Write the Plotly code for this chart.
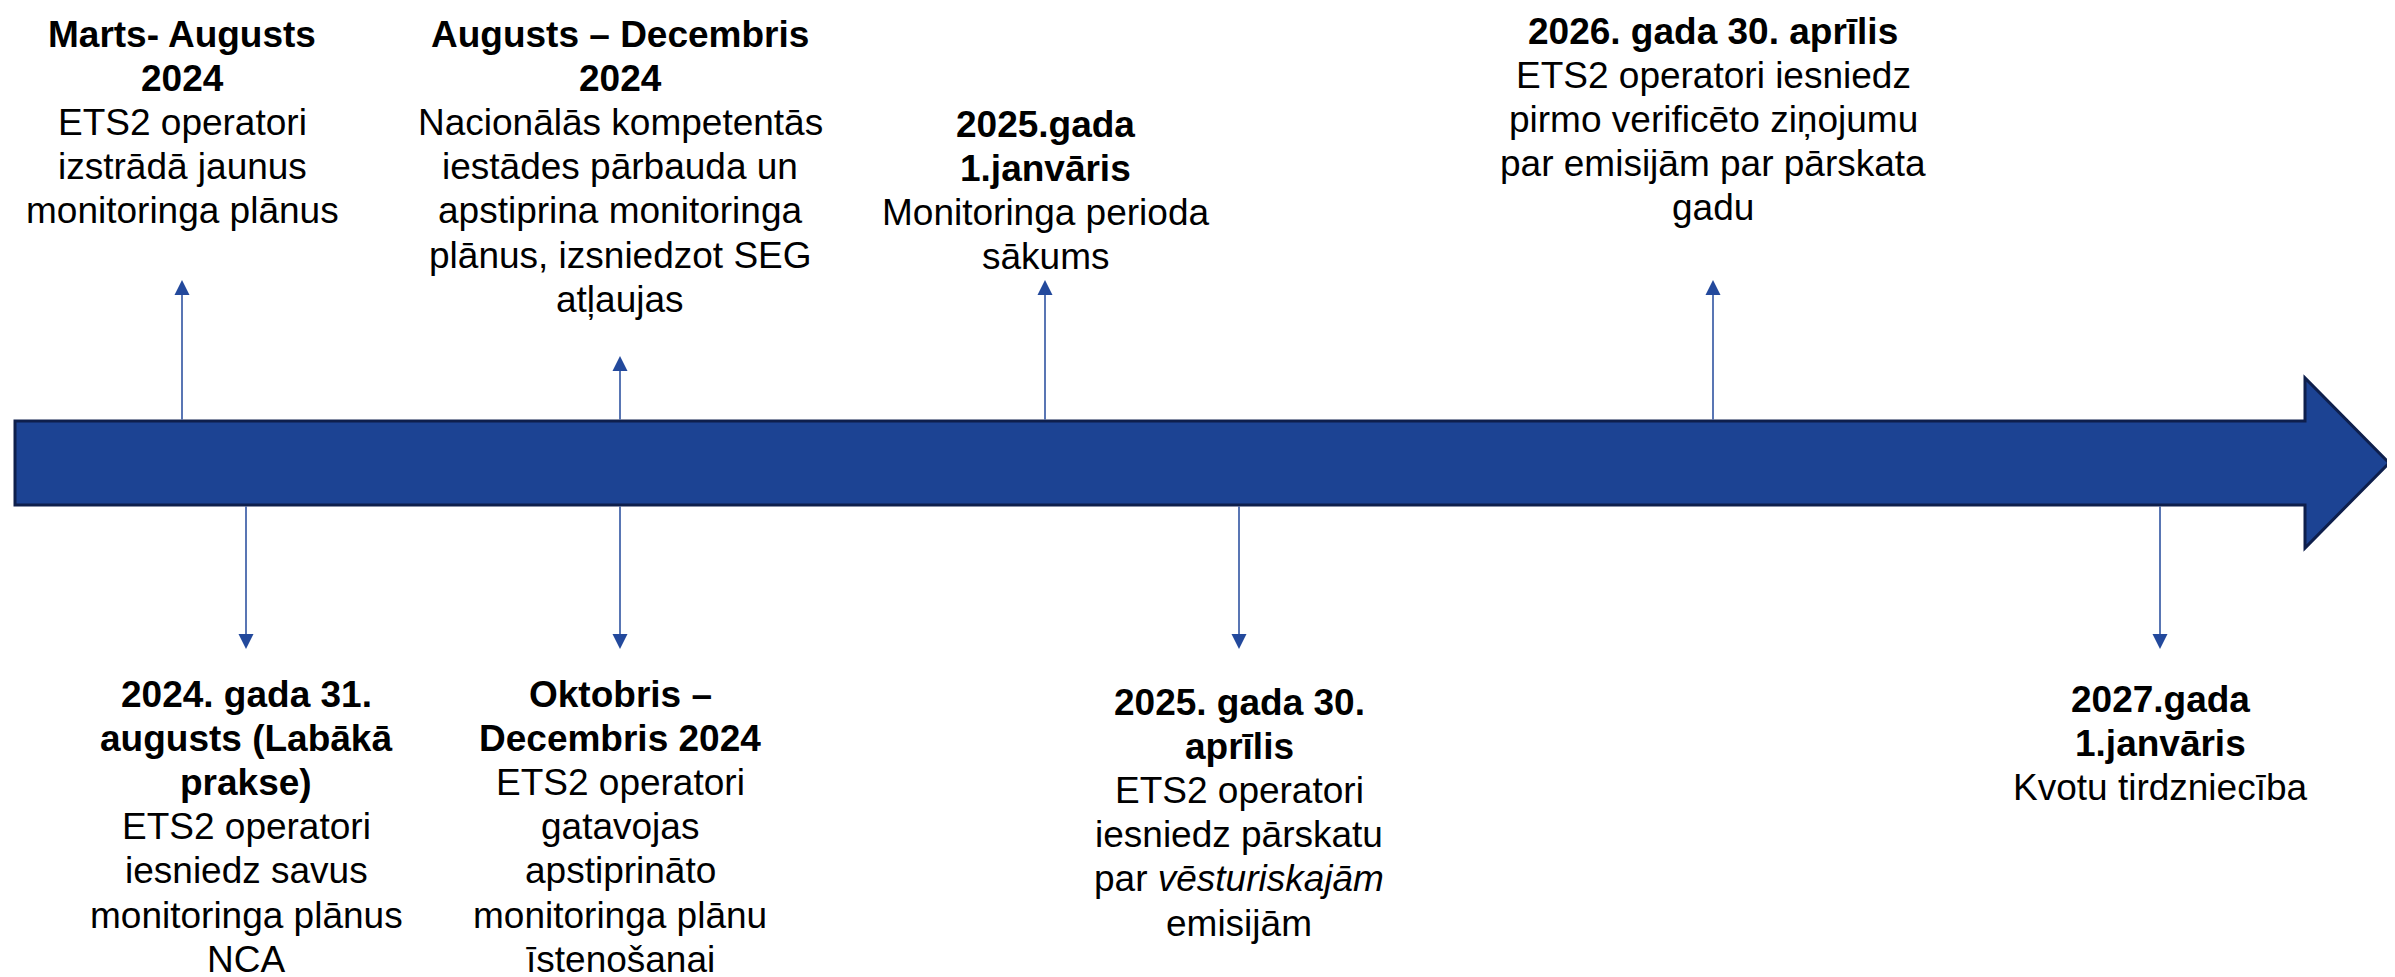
import plotly.graph_objects as go

# ---------------- data ----------------
event_pos = [174, 612, 1037, 1705, 238, 612, 1231, 2152]
event_side = ["up", "up", "up", "up", "down", "down", "down", "down"]

headings = [
    ["Marts- Augusts", "2024"],
    ["Augusts – Decembris", "2024"],
    ["2025.gada", "1.janvāris"],
    ["2026. gada 30. aprīlis"],
    ["2024. gada 31.", "augusts (Labākā", "prakse)"],
    ["Oktobris –", "Decembris 2024"],
    ["2025. gada 30.", "aprīlis"],
    ["2027.gada", "1.janvāris"],
]

details = [
    ["ETS2 operatori", "izstrādā jaunus", "monitoringa plānus"],
    ["Nacionālās kompetentās", "iestādes pārbauda un", "apstiprina monitoringa",
     "plānus, izsniedzot SEG", "atļaujas"],
    ["Monitoringa perioda", "sākums"],
    ["ETS2 operatori iesniedz", "pirmo verificēto ziņojumu",
     "par emisijām par pārskata", "gadu"],
    ["ETS2 operatori", "iesniedz savus", "monitoringa plānus", "NCA"],
    ["ETS2 operatori", "gatavojas", "apstiprināto", "monitoringa plānu",
     "īstenošanai"],
    ["ETS2 operatori", "iesniedz pārskatu", "par <i>vēsturiskajām</i>", "emisijām"],
    ["Kvotu tirdzniecība"],
]

# ---------------- layout constants ----------------
W, H = 2395, 977
BAR_TOP, BAR_BOT = 413, 497
BAR_LEFT, HEAD_BASE, HEAD_TIP = 7, 2297, 2381
HEAD_TOP, HEAD_BOT = 370, 540
connector_tip = [272, 348, 272, 272, 641, 641, 641, 641]
label_first_y = [26, 26, 116, 23, 686, 686, 694, 691]
LINE_PITCH = 44.2
FONT = "Liberation Sans, Arial, sans-serif"
FONT_SIZE = 37
BAR_FILL = "#1C4393"
BAR_EDGE = "#0E1F4C"
CONN = "#23499C"

fig = go.Figure()
fig.add_trace(go.Scatter(x=[0, W], y=[0, H], mode="markers",
                         marker=dict(opacity=0), hoverinfo="skip",
                         showlegend=False))

mid = (BAR_TOP + BAR_BOT) / 2
arrow_path = (f"M {BAR_LEFT},{BAR_TOP} L {HEAD_BASE},{BAR_TOP} L {HEAD_BASE},{HEAD_TOP} "
              f"L {HEAD_TIP},{mid} L {HEAD_BASE},{HEAD_BOT} L {HEAD_BASE},{BAR_BOT} "
              f"L {BAR_LEFT},{BAR_BOT} Z")
fig.add_shape(type="path", path=arrow_path, xref="x", yref="y",
              fillcolor=BAR_FILL, line=dict(color=BAR_EDGE, width=3), layer="above")

annotations = []
for i, x in enumerate(event_pos):
    base = BAR_TOP if event_side[i] == "up" else BAR_BOT
    annotations.append(dict(
        x=x, y=connector_tip[i], ax=x, ay=base, xref="x", yref="y",
        axref="x", ayref="y", text="", showarrow=True, arrowhead=2,
        arrowsize=2, arrowwidth=1.5, arrowcolor=CONN, standoff=0, startstandoff=0))
    lines = [f"<b>{t}</b>" for t in headings[i]] + details[i]
    for j, ln in enumerate(lines):
        annotations.append(dict(
            x=x, y=label_first_y[i] + j * LINE_PITCH, xref="x", yref="y",
            text=ln, showarrow=False, xanchor="center", yanchor="middle",
            font=dict(family=FONT, size=FONT_SIZE, color="black")))

fig.update_layout(
    width=W, height=H, margin=dict(l=0, r=0, t=0, b=0),
    paper_bgcolor="white", plot_bgcolor="white",
    xaxis=dict(range=[0, W], visible=False, fixedrange=True),
    yaxis=dict(range=[H, 0], visible=False, fixedrange=True),
    annotations=annotations, showlegend=False,
)

fig.write_html("out.html")
